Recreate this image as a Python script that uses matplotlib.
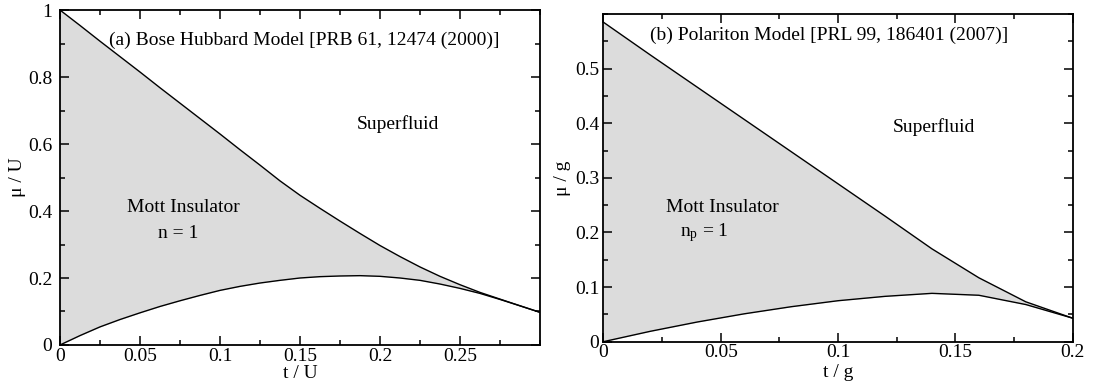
import matplotlib
matplotlib.use("Agg")
import matplotlib.pyplot as plt
from matplotlib.ticker import MultipleLocator, FixedLocator, FixedFormatter

plt.rcParams['font.family'] = ['Liberation Serif', 'DejaVu Serif']
plt.rcParams['mathtext.fontset'] = 'custom'
plt.rcParams['mathtext.rm'] = 'Liberation Serif'
plt.rcParams['mathtext.it'] = 'Liberation Serif:italic'

# (a) Bose-Hubbard Mott lobe, n = 1
bh_t = [0, 0.0125, 0.025, 0.0375, 0.05, 0.0625, 0.075, 0.0875, 0.1, 0.1125,
        0.125, 0.1375, 0.15, 0.1625, 0.175, 0.1875, 0.2, 0.2125, 0.225, 0.2375,
        0.25, 0.2625, 0.275, 0.2875, 0.3]
bh_upper = [1.0, 0.954, 0.907, 0.861, 0.815, 0.768, 0.722, 0.676, 0.630, 0.583,
            0.537, 0.490, 0.447, 0.408, 0.370, 0.333, 0.297, 0.264, 0.233, 0.205,
            0.180, 0.157, 0.137, 0.117, 0.0975]
bh_lower = [0.0, 0.028, 0.054, 0.076, 0.096, 0.115, 0.132, 0.148, 0.163, 0.175,
            0.185, 0.193, 0.200, 0.204, 0.206, 0.207, 0.205, 0.200, 0.193, 0.182,
            0.169, 0.154, 0.136, 0.117, 0.0975]

# (b) polariton Mott lobe, n_p = 1
pol_t = [0, 0.02, 0.04, 0.06, 0.08, 0.1, 0.12, 0.14, 0.16, 0.18, 0.2]
pol_upper = [0.585, 0.525, 0.466, 0.407, 0.348, 0.289, 0.230, 0.170, 0.117, 0.073, 0.043]
pol_lower = [0.0, 0.019, 0.036, 0.051, 0.064, 0.075, 0.083, 0.0885, 0.085, 0.068, 0.043]

fill_color = '#dcdcdc'
fs = 14

fig = plt.figure(figsize=(10.98, 3.85), dpi=100)
ax1 = fig.add_axes([0.0546, 0.1039, 0.4372, 0.8701])
ax2 = fig.add_axes([0.5495, 0.1125, 0.4275, 0.8512])


def style_axes(ax, ypad):
    for s in ax.spines.values():
        s.set_linewidth(1.3)
    ax.tick_params(which='both', direction='in', top=True, right=True,
                   labelsize=fs, width=1.1)
    ax.tick_params(which='major', length=6.5)
    ax.tick_params(which='minor', length=3.5)
    ax.tick_params(axis='x', pad=2)
    ax.tick_params(axis='y', pad=ypad)


# left panel
ax1.fill_between(bh_t, bh_lower, bh_upper, color=fill_color, lw=0)
ax1.plot(bh_t, bh_upper, color='black', lw=1.0)
ax1.plot(bh_t, bh_lower, color='black', lw=1.0)
ax1.set_xlim(0, 0.3)
ax1.set_ylim(0, 1)
ax1.xaxis.set_major_locator(FixedLocator([0, 0.05, 0.1, 0.15, 0.2, 0.25]))
ax1.xaxis.set_major_formatter(FixedFormatter(['0', '0.05', '0.1', '0.15', '0.2', '0.25']))
ax1.xaxis.set_minor_locator(MultipleLocator(0.025))
ax1.yaxis.set_major_locator(FixedLocator([0, 0.2, 0.4, 0.6, 0.8, 1.0]))
ax1.yaxis.set_major_formatter(FixedFormatter(['0', '0.2', '0.4', '0.6', '0.8', '1']))
ax1.yaxis.set_minor_locator(MultipleLocator(0.1))
style_axes(ax1, 5.5)
ax1.text(0.0306, 0.91, '(a) Bose Hubbard Model [PRB 61, 12474 (2000)]',
         fontsize=fs, ha='left', va='center')
ax1.text(0.211, 0.66, 'Superfluid', fontsize=fs, ha='center', va='center')
ax1.text(0.077, 0.41, 'Mott Insulator', fontsize=fs, ha='center', va='center')
ax1.text(0.074, 0.334, 'n = 1', fontsize=fs, ha='center', va='center')
ax1.text(-0.088, 0.5, 'μ / U', fontsize=fs, rotation=90, ha='center', va='center',
         transform=ax1.transAxes)
ax1.text(0.5, -0.084, 't / U', fontsize=fs, ha='center', va='center',
         transform=ax1.transAxes)

# right panel
ax2.fill_between(pol_t, pol_lower, pol_upper, color=fill_color, lw=0)
ax2.plot(pol_t, pol_upper, color='black', lw=1.0)
ax2.plot(pol_t, pol_lower, color='black', lw=1.0)
ax2.set_xlim(0, 0.2)
ax2.set_ylim(0, 0.6)
ax2.xaxis.set_major_locator(FixedLocator([0, 0.05, 0.1, 0.15, 0.2]))
ax2.xaxis.set_major_formatter(FixedFormatter(['0', '0.05', '0.1', '0.15', '0.2']))
ax2.xaxis.set_minor_locator(MultipleLocator(0.025))
ax2.yaxis.set_major_locator(FixedLocator([0, 0.1, 0.2, 0.3, 0.4, 0.5]))
ax2.yaxis.set_major_formatter(FixedFormatter(['0', '0.1', '0.2', '0.3', '0.4', '0.5']))
ax2.yaxis.set_minor_locator(MultipleLocator(0.05))
style_axes(ax2, 3)
ax2.text(0.0199, 0.561, '(b) Polariton Model [PRL 99, 186401 (2007)]',
         fontsize=fs, ha='left', va='center')
ax2.text(0.141, 0.393, 'Superfluid', fontsize=fs, ha='center', va='center')
ax2.text(0.0506, 0.245, 'Mott Insulator', fontsize=fs, ha='center', va='center')
ax2.text(0.043, 0.199, r'n$_{\mathrm{p}}$ = 1', fontsize=fs, ha='center', va='center')
ax2.text(-0.087, 0.5, 'μ / g', fontsize=fs, rotation=90, ha='center', va='center',
         transform=ax2.transAxes)
ax2.text(0.5, -0.095, 't / g', fontsize=fs, ha='center', va='center',
         transform=ax2.transAxes)

fig.savefig('out.png', dpi=100)
